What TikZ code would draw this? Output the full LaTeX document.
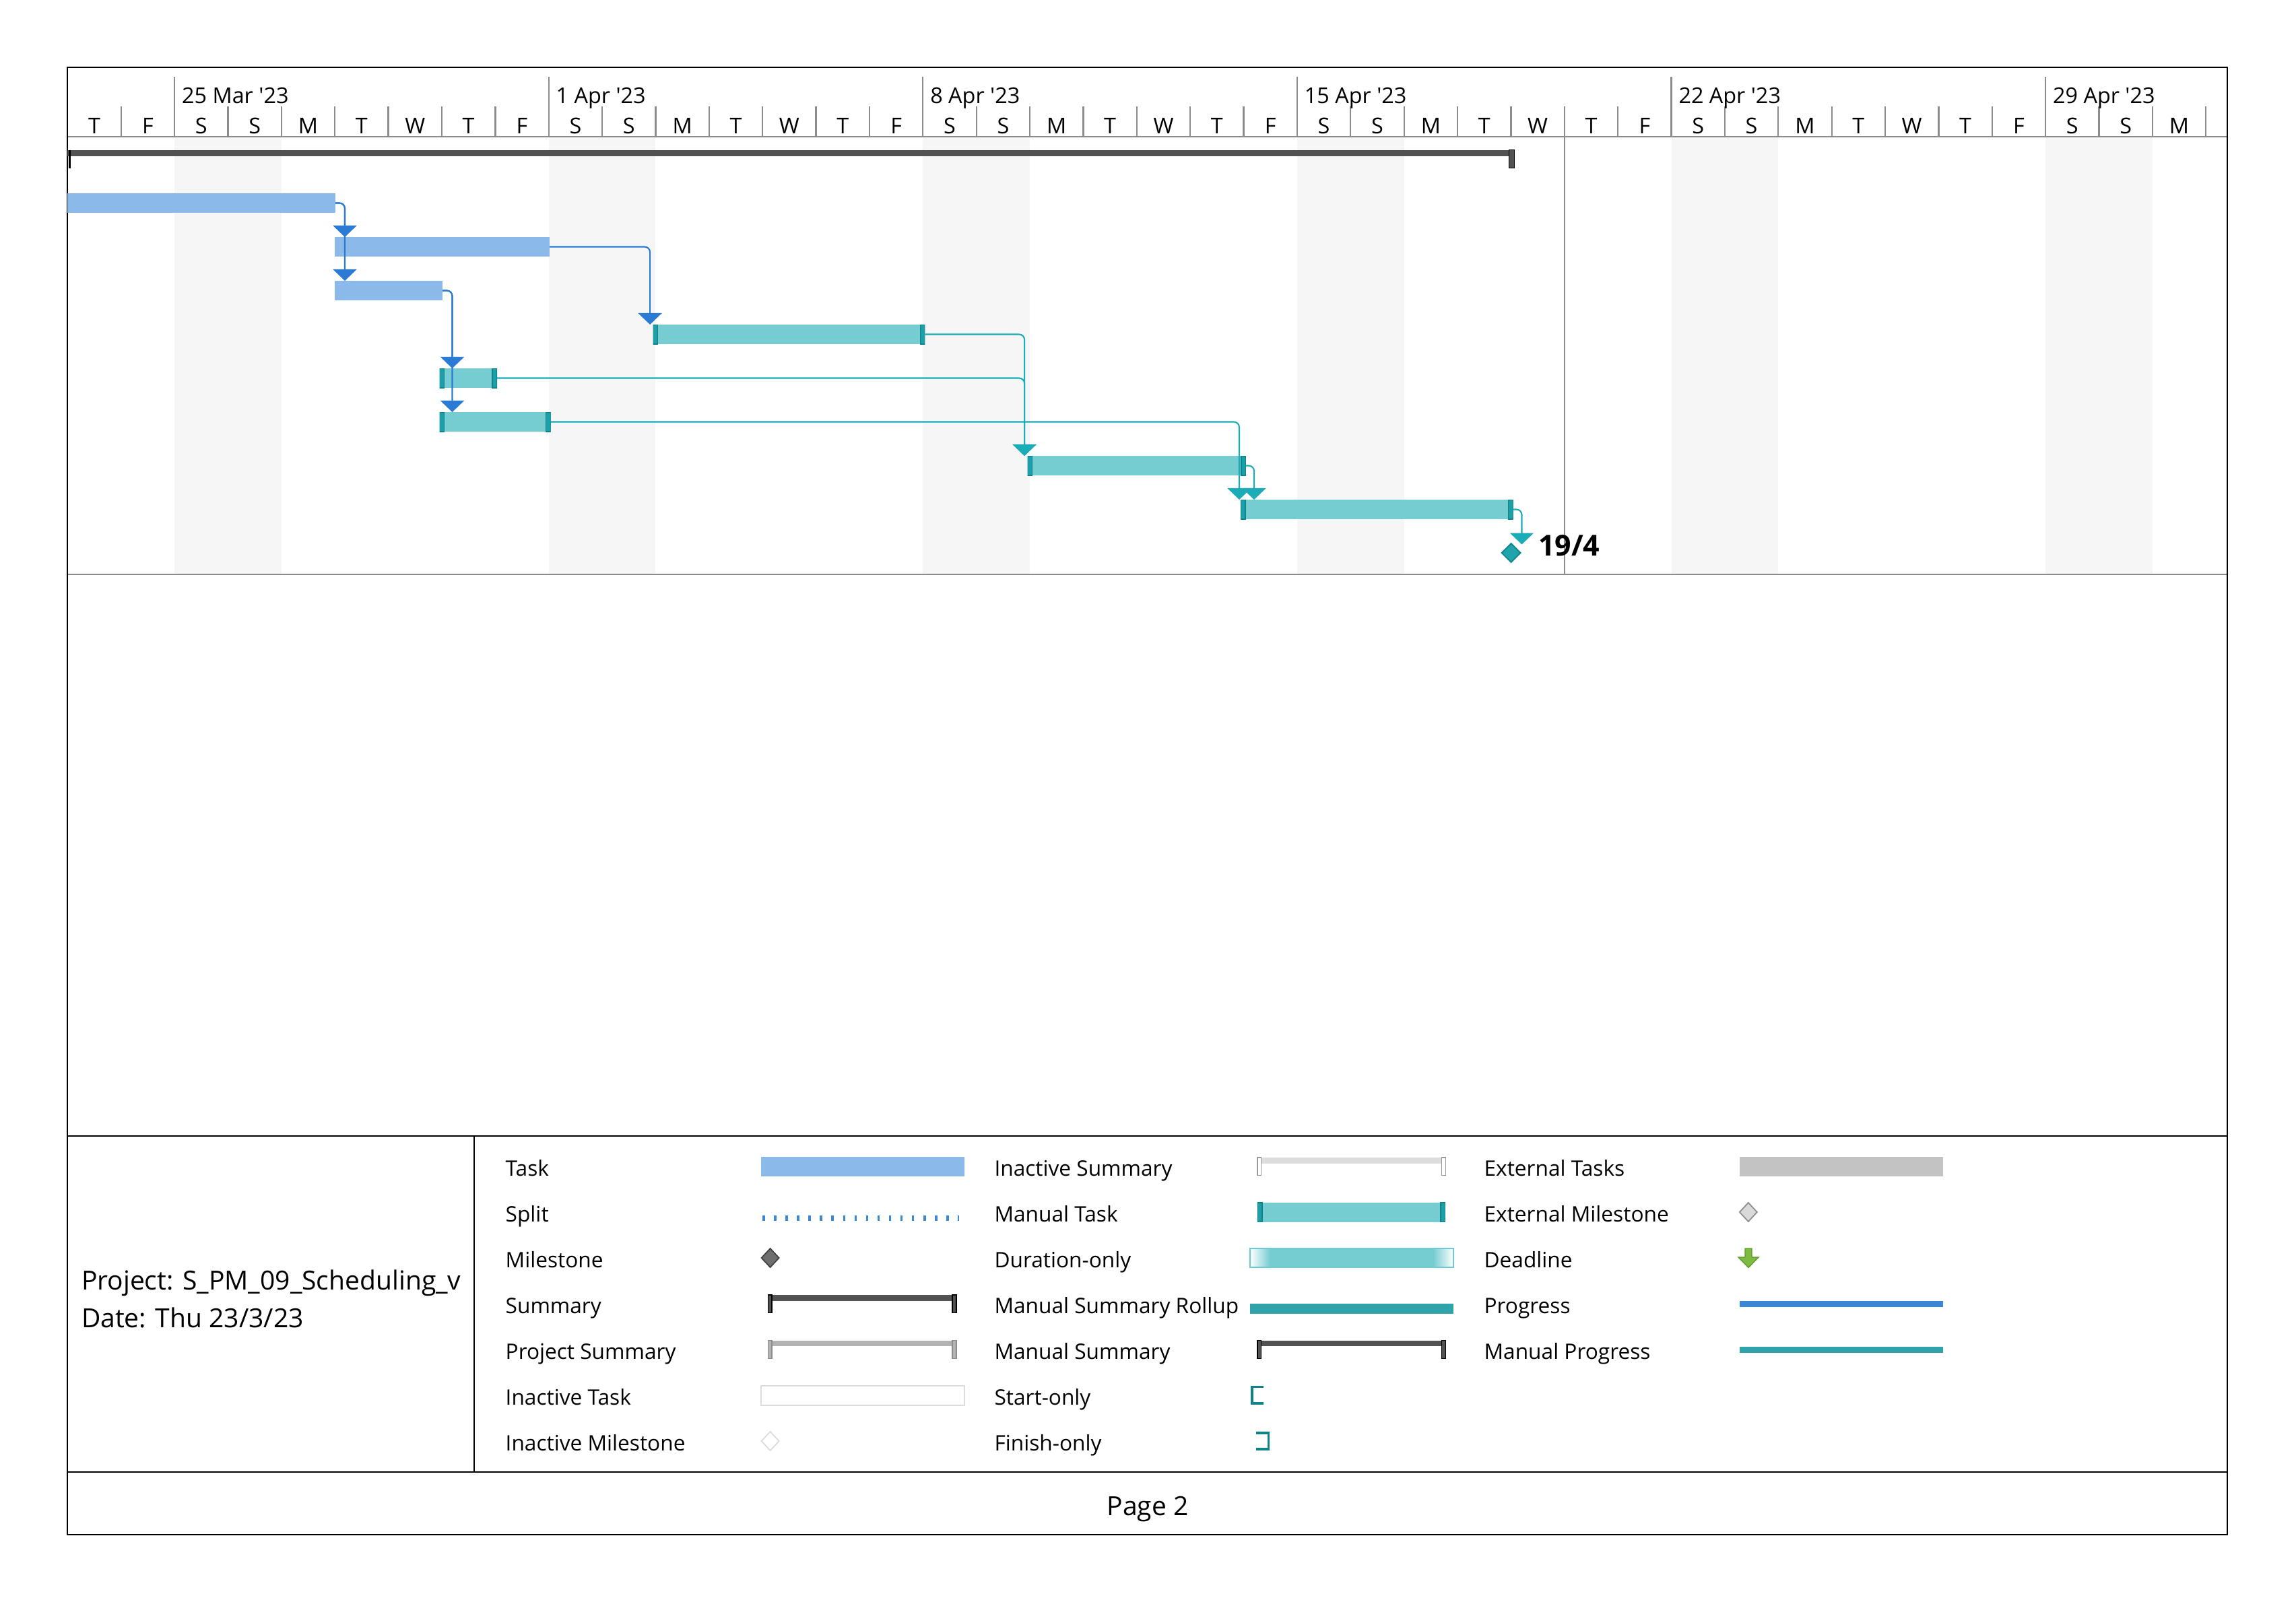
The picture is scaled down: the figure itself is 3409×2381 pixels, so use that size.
\documentclass[tikz,border=0pt]{standalone}
\usepackage{fontspec}
\setmainfont{Open Sans}[Ligatures=TeXOff]
\usepackage{tikz}
\usetikzlibrary{arrows.meta,calc,shapes.geometric,positioning}

% colours of the chart
\definecolor{taskblue}{HTML}{8AB9EA}
\definecolor{linkblue}{HTML}{2B7BD5}
\definecolor{manfill}{HTML}{75CCD1}
\definecolor{mancap}{HTML}{1C9FA8}
\definecolor{manedge}{HTML}{0E8389}
\definecolor{linkteal}{HTML}{1BACB7}
\definecolor{msteal}{HTML}{1FA3AD}
\definecolor{sumgray}{HTML}{525252}
\definecolor{weekend}{HTML}{F6F6F6}
\definecolor{gridgray}{HTML}{8C8C8C}
\definecolor{projgray}{HTML}{B3B3B3}
\definecolor{inactgray}{HTML}{DCDCDC}
\definecolor{extgray}{HTML}{C3C3C3}
\definecolor{extfill}{HTML}{D9D9D9}
\definecolor{progblue}{HTML}{3C87D5}
\definecolor{rollteal}{HTML}{2EA3AA}
\definecolor{durline}{HTML}{6CCBD1}
\definecolor{msgray}{HTML}{6E6E6E}
\definecolor{deadgreen}{HTML}{7DBB42}
\definecolor{deadedge}{HTML}{5E9E2A}

\tikzset{GANTT style/.style={>={Triangle[width=3.5mm,length=1.7mm]},every node/.style={inner sep=0pt,outer sep=0pt}}}
\newcommand{\hdrsize}{\fontsize{9.2}{11}\selectfont}
\newcommand{\lgdsize}{\fontsize{9.0}{11}\selectfont}
\newcommand{\infosize}{\fontsize{11.1}{13}\selectfont}
% summary glyph of the legend: name, bar x, bar y, bar, tick fill, tick edge
\newcommand{\sumglyph}[6]{%
	\node[rectangle,fill=#4,minimum width=2.68cm,minimum height=0.087cm,anchor=north west] (#1) at (#2,#3) {};
	\filldraw[fill=#5,draw=#6,line width=0.4pt] (#1.north west) rectangle ++(-5.7,26.6);
	\filldraw[fill=#5,draw=#6,line width=0.4pt] (#1.north east) rectangle ++(5.7,26.6);
}

\begin{document}
\begin{tikzpicture}[x=0.01cm,y=-0.01cm,GANTT style]
	\tikzstyle{pageline}=[draw=black,line width=0.6pt]
	\tikzstyle{gridline}=[draw=gridgray,line width=0.65pt]
	\tikzstyle{autotask}=[rectangle,fill=taskblue,minimum height=0.29cm,anchor=west]
	\tikzstyle{mantask}=[rectangle,fill=manfill,minimum height=0.29cm,anchor=west,
		path picture={
			\filldraw[fill=mancap,draw=manedge,line width=0.4pt] (path picture bounding box.south west) rectangle ([xshift=0.07cm]path picture bounding box.north west);
			\filldraw[fill=mancap,draw=manedge,line width=0.4pt] (path picture bounding box.south east) rectangle ([xshift=-0.07cm]path picture bounding box.north east);}]
	\tikzstyle{milestone}=[diamond,fill=msteal,draw=manedge,line width=0.5pt,minimum size=0.28cm]
	\tikzstyle{blink}=[draw=linkblue,line width=0.6pt,rounded corners=0.08cm,to path={-| (\tikztotarget)}]
	\tikzstyle{tlink}=[blink,draw=linkteal]
	\tikzstyle{daytext}=[font=\hdrsize,anchor=base]
	\tikzstyle{lgdtext}=[font=\lgdsize,anchor=base west]
	\tikzstyle{lgdbar}=[rectangle,minimum height=0.287cm,anchor=west]

	\useasboundingbox (0,0) rectangle (3409,2381);

	% weekends
	\foreach \d in {2,9,16,23,30,37}
		\fill[weekend] ({100.4+79.37*\d},203) rectangle ({100.4+79.37*(\d+2)},853);

	% timescale
	\foreach \d in {1,...,40}
		\draw[gridline] ({100.4+79.37*\d},158) -- ({100.4+79.37*\d},203);
	\foreach \w in {0,...,5}
		\foreach \l [count=\i from 0] in {T,F,S,S,M,T,W}{
			\pgfmathtruncatemacro{\d}{7*\w+\i}
			\ifnum\d<40
				\node[daytext] (day\d) at ({100.4+79.37*(\d+0.5)},198.3) {\l};
			\fi
		}
	\foreach \d/\lbl in {2/25 Mar '23,9/1 Apr '23,16/8 Apr '23,23/15 Apr '23,30/22 Apr '23,37/29 Apr '23}{
		\draw[gridline] ({100.4+79.37*\d},114) -- ({100.4+79.37*\d},203);
		\node[daytext,anchor=base west] (wk\d) at ({111.4+79.37*\d},153.3) {\lbl};
	}
	\draw[gridline,line width=0.8pt] (100,203) -- (3307,203);
	\draw[gridline,line width=0.8pt] (100,853) -- (3307,853);
	\draw[gridline] (2322.8,203) -- (2322.8,853);

	% page frame
	\draw[pageline] (100,100) rectangle (3307,2279);
	\draw[pageline] (100,1687) -- (3307,1687);
	\draw[pageline] (100,2186) -- (3307,2186);
	\draw[pageline] (704,1687) -- (704,2186);

	% project summary row
	\node[rectangle,fill=sumgray,minimum width=21.47cm,minimum height=0.09cm,anchor=west] (sum) at (100,227.5) {};
	\fill[black] ($(sum.north west)+(2,-0.5)$) rectangle ++(2.5,27);
	\filldraw[fill=sumgray,draw=black,line width=0.4pt] ($(sum.north east)+(0,-0.5)$) rectangle ++(-7.5,27);

	% tasks
	\node[autotask,minimum width=3.98cm] (t1) at (100,301.5) {};
	\node[autotask,minimum width=3.19cm] (t2) at (497,366.5) {};
	\node[autotask,minimum width=1.6cm] (t3) at (497,431.5) {};
	\node[mantask,minimum width=4.034cm] (t4) at (969.6,496.5) {};
	\node[mantask,minimum width=0.855cm] (t5) at (652.5,561.5) {};
	\node[mantask,minimum width=1.649cm] (t6) at (652.5,626.5) {};
	\node[mantask,minimum width=3.24cm] (t7) at (1525.6,691.5) {};
	\node[mantask,minimum width=4.043cm] (t8) at (1842,756.5) {};
	\node[milestone] (m) at (2243.5,821) {};
	\node[font=\fontsize{12.2}{14}\bfseries\selectfont,anchor=base west] (mlbl) at (2284,825.7) {19/4};

	% links
	\path[->]
	(t1.east) edge[blink] ($(t2.north west)+(15,0)$)
	(t1.east) edge[blink] ($(t3.north west)+(15,0)$)
	(t2.east) edge[blink] ($(t4.north west)+(-4.5,0)$)
	(t3.east) edge[blink] ($(t5.north west)+(19,0)$)
	(t3.east) edge[blink] ($(t6.north west)+(19,0)$)
	;
	\path[->]
	(t4.east) edge[tlink] ($(t7.north west)+(-4.5,0)$)
	(t5.east) edge[tlink] ($(t7.north west)+(-4.5,0)$)
	(t6.east) edge[tlink] ($(t8.north west)+(-2,0)$)
	(t7.east) edge[tlink] ($(t8.north west)+(20,0)$)
	(t8.east) edge[tlink] ($(m.north)+(16,1.5)$)
	;

	% project info and footer
	\node[font=\infosize,anchor=base west] (proj) at (121,1915) {Project: S\_PM\_09\_Scheduling\_v};
	\node[font=\infosize,anchor=base west] (date) at (121,1971) {Date: Thu 23/3/23};
	\node[font=\infosize,anchor=base] (page) at (1704,2250.7) {Page 2};

	% legend texts
	\foreach \lbl [count=\i from 0] in {Task,Split,Milestone,Summary,Project Summary,Inactive Task,Inactive Milestone}
		\node[lgdtext] (la\i) at (750.7,1746.7+67.9*\i) {\lbl};
	\foreach \lbl [count=\i from 0] in {Inactive Summary,Manual Task,Duration-only,Manual Summary Rollup,Manual Summary,Start-only,Finish-only}
		\node[lgdtext] (lb\i) at (1476.5,1746.7+67.9*\i) {\lbl};
	\foreach \lbl [count=\i from 0] in {External Tasks,External Milestone,Deadline,Progress,Manual Progress}
		\node[lgdtext] (lc\i) at (2203.6,1746.7+67.9*\i) {\lbl};

	% legend column one
	\node[lgdbar,fill=taskblue,minimum width=3.02cm] (lgtask) at (1130,1732.4) {};
	\draw[progblue,line width=0.08cm,dash pattern=on 0.035cm off 0.1356cm] (1132,1809) -- (1424,1809);
	\node[diamond,fill=msgray,draw=black!75,line width=0.5pt,minimum width=0.26cm,minimum height=0.28cm] (lgms) at (1143.6,1868) {};
	\sumglyph{lgsum}{1146}{1923}{sumgray}{sumgray}{black}
	\sumglyph{lgproj}{1146}{1990.7}{projgray}{projgray}{gridgray}
	\node[lgdbar,fill=white,draw=inactgray,line width=0.6pt,minimum width=3.02cm] (lginact) at (1130,2072.4) {};
	\node[diamond,fill=white,draw=inactgray,line width=0.5pt,minimum width=0.26cm,minimum height=0.28cm] (lginms) at (1143.6,2140) {};

	% legend column two
	\sumglyph{lginsum}{1872.6}{1719}{inactgray}{white}{gray!80}
	\node[mantask,minimum width=2.79cm] (lgman) at (1866.8,1800.4) {};
	\node[lgdbar,fill=manfill,minimum width=3.017cm,minimum height=0.28cm] (lgdur) at (1856,1868.3) {};
	\shade[left color=white,right color=manfill] (lgdur.south west) rectangle ++(30,-28);
	\shade[left color=manfill,right color=white] ($(lgdur.south east)+(-30,0)$) rectangle (lgdur.north east);
	\draw[durline,line width=0.5pt] (lgdur.south west) rectangle (lgdur.north east);
	\node[lgdbar,fill=rollteal,minimum width=3.017cm,minimum height=0.147cm] (lgroll) at (1856,1943.4) {};
	\sumglyph{lgmansum}{1872.6}{1990.7}{sumgray}{sumgray}{black}
	\draw[manedge,line width=1.1pt] (1875.5,2059.5) -- (1859,2059.5) -- (1859,2084.2) -- (1875.5,2084.2);
	\draw[manedge,line width=1.1pt] (1865,2128.2) -- (1883.5,2128.2) -- (1883.5,2151.8) -- (1865,2151.8);

	% legend column three
	\node[lgdbar,fill=extgray,minimum width=3.013cm] (lgext) at (2583.4,1732.4) {};
	\node[diamond,fill=extfill,draw=gridgray,line width=0.5pt,minimum width=0.26cm,minimum height=0.28cm] (lgextms) at (2595.8,1800) {};
	\filldraw[fill=deadgreen,draw=deadedge,line width=0.4pt] (2591,1854) -- (2601,1854) -- (2601,1867) -- (2611,1867) -- (2596,1882.3) -- (2581,1867) -- (2591,1867) -- cycle;
	\node[lgdbar,fill=progblue,minimum width=3.013cm,minimum height=0.087cm] (lgprog) at (2583.4,1936.4) {};
	\node[lgdbar,fill=rollteal,minimum width=3.013cm,minimum height=0.087cm] (lgmanprog) at (2583.4,2004.4) {};
\end{tikzpicture}
\end{document}
